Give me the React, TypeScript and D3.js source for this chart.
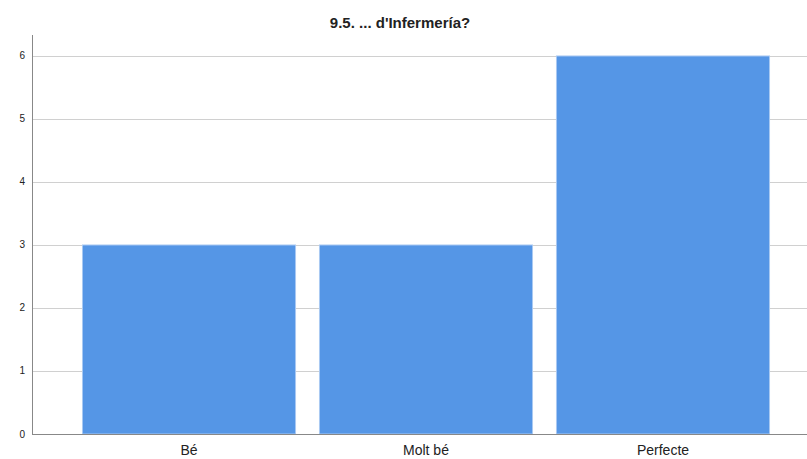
import { useRef, useEffect } from 'react';
import * as d3 from 'd3';

const categories = ['Bé', 'Molt bé', 'Perfecte'];
const counts = [3, 3, 6];
const yTicks = [0, 1, 2, 3, 4, 5, 6];
const title = "9.5. ... d'Infermería?";

export default function App() {
  const svgRef = useRef<SVGSVGElement>(null);
  const width = 807;
  const height = 459;

  useEffect(() => {
    const svg = d3.select(svgRef.current);
    svg.selectAll('*').remove();

    const left = 32;
    const x = d3.scaleBand<string>()
      .domain(categories)
      .range([left, 820])
      .paddingInner(0.101)
      .paddingOuter(0.213);
    const y = d3.scaleLinear().domain([0, 6.333]).range([434, 35]);

    svg.append('rect').attr('width', width).attr('height', height).attr('fill', '#fff');

    // gridlines
    svg.append('g')
      .selectAll('line')
      .data(yTicks.filter((d) => d > 0))
      .join('line')
      .attr('x1', left)
      .attr('x2', width)
      .attr('y1', (d) => Math.round(y(d)) + 0.5)
      .attr('y2', (d) => Math.round(y(d)) + 0.5)
      .attr('stroke', '#d0d0d0')
      .attr('stroke-width', 1);

    // bars
    svg.append('g')
      .selectAll('rect')
      .data(categories)
      .join('rect')
      .attr('x', (d) => x(d)!)
      .attr('y', (_, i) => y(counts[i]))
      .attr('width', x.bandwidth())
      .attr('height', (_, i) => y(0) - y(counts[i]))
      .attr('fill', '#5596e6')
      .attr('stroke', '#a9c9f2')
      .attr('stroke-width', 1);

    // axes lines
    svg.append('line')
      .attr('x1', left + 0.5).attr('x2', left + 0.5)
      .attr('y1', 35).attr('y2', 434)
      .attr('stroke', '#888').attr('stroke-width', 1);
    svg.append('line')
      .attr('x1', left).attr('x2', width)
      .attr('y1', 434.5).attr('y2', 434.5)
      .attr('stroke', '#888').attr('stroke-width', 1);

    // y tick labels
    svg.append('g')
      .selectAll('text')
      .data(yTicks)
      .join('text')
      .attr('x', 25)
      .attr('y', (d) => y(d))
      .attr('dy', '0.35em')
      .attr('text-anchor', 'end')
      .attr('font-family', "'Liberation Sans', Arial, sans-serif")
      .attr('font-size', '10px')
      .attr('fill', '#222')
      .text((d) => d);

    // x labels
    svg.append('g')
      .selectAll('text')
      .data(categories)
      .join('text')
      .attr('x', (d) => x(d)! + x.bandwidth() / 2)
      .attr('y', 455)
      .attr('text-anchor', 'middle')
      .attr('font-family', "'Liberation Sans', Arial, sans-serif")
      .attr('font-size', '14px')
      .attr('fill', '#222')
      .text((d) => d);

    // title
    svg.append('text')
      .attr('x', 400)
      .attr('y', 28)
      .attr('text-anchor', 'middle')
      .attr('font-family', "'Liberation Sans', Arial, sans-serif")
      .attr('font-size', '15px')
      .attr('font-weight', 'bold')
      .attr('fill', '#222')
      .text(title);
  }, []);

  return (
    <svg
      ref={svgRef}
      width={width}
      height={height}
      style={{ position: 'absolute', left: 0, top: 0, display: 'block' }}
    />
  );
}
